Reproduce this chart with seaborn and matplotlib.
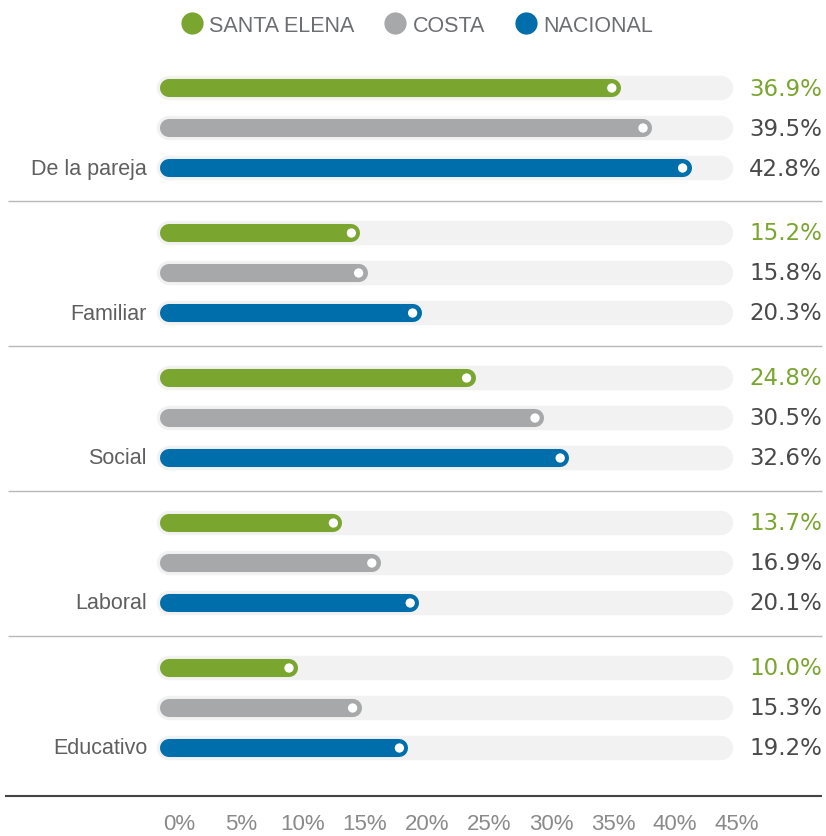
import numpy as np
import pandas as pd
import matplotlib
matplotlib.use("Agg")
import matplotlib.pyplot as plt
import seaborn as sns
from matplotlib.lines import Line2D

# ---------------- data ----------------
categories = ["De la pareja", "Familiar", "Social", "Laboral", "Educativo"]
series = ["SANTA ELENA", "COSTA", "NACIONAL"]
santa_elena = [36.9, 15.2, 24.8, 13.7, 10.0]
costa = [39.5, 15.8, 30.5, 16.9, 15.3]
nacional = [42.8, 20.3, 32.6, 20.1, 19.2]
tick_values = [0, 5, 10, 15, 20, 25, 30, 35, 40, 45]
tick_labels = [f"{t}%" for t in tick_values]
track_max = 46

colors = {"SANTA ELENA": "#7aa52f", "COSTA": "#a7a8aa", "NACIONAL": "#006eab"}
value_colors = {"SANTA ELENA": "#7aa52f", "COSTA": "#4a4a4a", "NACIONAL": "#4a4a4a"}
track_color = "#f2f2f2"

GROUP_STEP = 3.625
rows = []
for g, cat in enumerate(categories):
    for s, (name, vals) in enumerate(zip(series, [santa_elena, costa, nacional])):
        rows.append({"category": cat, "series": name, "value": vals[g],
                     "y": g * GROUP_STEP + s})
df = pd.DataFrame(rows)

# ---------------- figure ----------------
sns.set_theme(style="white")
plt.rcParams["font.family"] = ["Liberation Sans", "DejaVu Sans"]

W, H = 826, 837
fig = plt.figure(figsize=(W / 100, H / 100), dpi=100)
ax = fig.add_axes([0, 0, 1, 1])
PX = 12.0      # pixels per percent
X0 = 169       # pixel of 0%
Y0, ROW = 89, 40

# tracks
ax.hlines(df["y"], 0, track_max, colors=track_color, lw=17.6, capstyle="round", zorder=1)
# bars
for name in series:
    sub = df[df["series"] == name]
    ax.hlines(sub["y"], 0, sub["value"], colors=colors[name], lw=13.0,
              capstyle="round", zorder=2)
# white dots at bar ends
sns.scatterplot(data=df, x="value", y="y", color="white", s=45, edgecolor="none",
                ax=ax, zorder=5, legend=False)
ax.set_xlim(-X0 / PX, (W - X0) / PX)
ax.set_ylim((H - Y0) / ROW, -Y0 / ROW)
ax.axis("off")

# category labels
for g, cat in enumerate(categories):
    ax.text(-22 / PX, g * GROUP_STEP + 2, cat, ha="right", va="center",
            fontsize=15.5, color="#5f5f5f")

# value labels
for _, r in df.iterrows():
    ax.text((822 - X0) / PX, r["y"], f"{r['value']:.1f}%", ha="right", va="center",
            fontsize=16.5, color=value_colors[r["series"]],
            family=["DejaVu Sans"])

# separators
xl, xr = (8 - X0) / PX, (822 - X0) / PX
for g in range(len(categories) - 1):
    ax.hlines(g * GROUP_STEP + 2.8125, xl, xr, colors="#b8b8b8", lw=1.0, zorder=0)
ax.hlines((797 - Y0) / ROW, (5 - X0) / PX, xr, colors="#444444", lw=1.5, zorder=0)

# legend
handles = [Line2D([], [], marker="o", ls="none", markersize=16,
                  markerfacecolor=colors[n], markeredgecolor="none") for n in series]
leg = fig.legend(handles, series, loc="center", bbox_to_anchor=(0.505, 1 - 26 / H),
                 ncol=3, frameon=False, fontsize=15.5, handlelength=1.0,
                 handletextpad=0.3, columnspacing=1.4)
for t in leg.get_texts():
    t.set_color("#6d6e71")

# tick axis
tax = fig.add_axes([0, (H - 814) / H, 1, 0.0001])
TPX, TX0 = 12.4, 179
tax.set_xlim(-TX0 / TPX, (W - TX0) / TPX)
tax.set_xticks(tick_values)
tax.set_xticklabels(tick_labels)
tax.tick_params(axis="x", length=0, pad=0, labelsize=16, labelcolor="#8a8a8a")
tax.set_yticks([])
for sp in tax.spines.values():
    sp.set_visible(False)
tax.patch.set_alpha(0)

fig.savefig("out.png", dpi=100)
